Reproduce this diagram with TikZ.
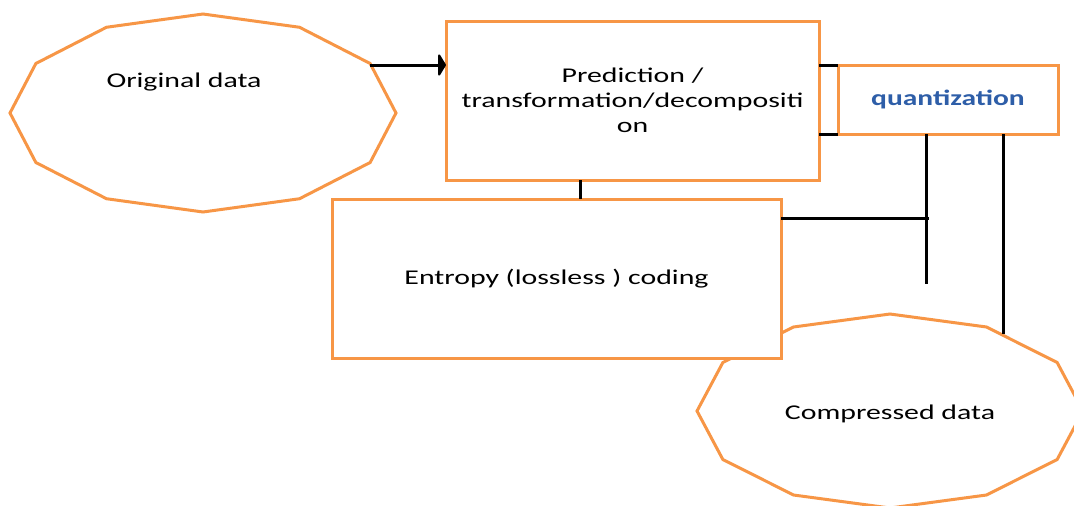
\documentclass[tikz,border=0pt]{standalone}
\usepackage{fontspec}
\setmainfont{Carlito}
\usepackage{tikz}
\usetikzlibrary{positioning,arrows.meta}
\definecolor{boxorange}{HTML}{F79646}
\definecolor{quantblue}{RGB}{46,94,168}
\newcommand{\wide}[1]{\scalebox{1.42}[1]{#1}}

\begin{document}
\begin{tikzpicture}[x=1pt,y=-1pt,
    block/.style={draw=boxorange, line width=3pt, fill=white, outer sep=0pt, inner sep=0pt},
    dodeca/.style={draw=boxorange, line width=3pt, fill=white},
    link/.style={draw=black, line width=3pt},
    lbl/.style={font=\fontsize{21}{25}\selectfont, align=center}]
    \clip (0,0) rectangle (1074,506);

    % Compressed data (sits behind the entropy box)
    \begin{scope}[shift={(890,411)}]
        \draw[dodeca] (0:193 and 97) \foreach \a in {30,60,...,330}{ -- (\a:193 and 97)} -- cycle;
    \end{scope}
    \node[lbl] (comp) at (890,414) {\wide{Compressed data}};

    % Original data
    \begin{scope}[shift={(203,113)}]
        \draw[dodeca] (0:193 and 99) \foreach \a in {30,60,...,330}{ -- (\a:193 and 99)} -- cycle;
    \end{scope}
    \node[lbl] (orig) at (184,82) {\wide{Original data}};
    \coordinate (origout) at (370,65);

    % Blocks
    \node[block, lbl, minimum width=373pt, minimum height=159pt] (pred) at (632.5,100.5)
        {\wide{Prediction /}\\\wide{transformation/decompositi}\\\wide{on}};
    \node[block, lbl, minimum width=449pt, minimum height=159pt] (ent) at (556.5,278.5)
        {\wide{Entropy (lossless ) coding}};
    \node[block, font=\bfseries\fontsize{22}{26}\selectfont, text=quantblue,
        minimum width=220pt, minimum height=69pt] (quant) at (948,99.5)
        {\raisebox{-2pt}{\scalebox{1.34}[1]{quantization}}};

    % Connectors
    \draw[link, -{Triangle[length=8pt,width=26pt,round]}] (origout) -- (pred.west |- origout);
    \draw[link] (pred.east |- quant.north west) -- (quant.north west);
    \draw[link] (pred.east |- quant.south west) -- (quant.south west);

    \coordinate (predtap) at ([xshift=-52pt]pred.south);
    \draw[link] (predtap) -- (predtap |- ent.north);

    \coordinate (qtapA) at ([xshift=-22pt]quant.south);
    \coordinate (qend) at (926,284);
    \draw[link] (qtapA) -- (qtapA |- qend);
    \coordinate (tap) at (929,218);
    \draw[link] (ent.east |- tap) -- (tap);

    \coordinate (qtapB) at ([xshift=55pt]quant.south);
    \coordinate (compin) at (1003,334);
    \draw[link] (qtapB) -- (qtapB |- compin);
\end{tikzpicture}
\end{document}
